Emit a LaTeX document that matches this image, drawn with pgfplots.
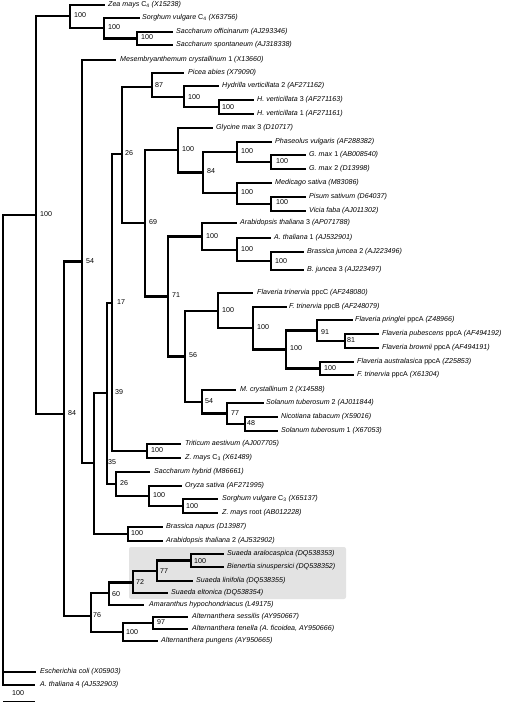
\documentclass[border=0pt]{standalone}
\usepackage{pgfplots}
\pgfplotsset{compat=1.18}
\usepackage{fontspec}
\setmainfont{Liberation Sans}
\newcommand{\I}[1]{\textit{#1}}
\tikzset{
  leaf/.style={anchor=west,inner sep=0pt,font=\fontsize{7.1}{8}\selectfont,text height=5.1pt,text depth=1.4pt},
  bs/.style={anchor=west,inner sep=0pt,font=\fontsize{7.1}{8}\selectfont,text height=5.1pt,text depth=1.4pt}}
\pgfplotsset{tree/.style={black,line width=2.4pt,line cap=rect,line join=miter,no marks}}
\begin{document}
\begin{tikzpicture}
\begin{axis}[width=510pt,height=703pt,scale only axis,xmin=0,xmax=510,ymin=0,ymax=703,
  y dir=reverse,hide axis,clip=false]
% grey box
\addplot[draw=none,fill=black!11,rounded corners=2pt] coordinates {(129,547) (346,547) (346,599) (129,599)} -- cycle;
% root
\addplot[tree] coordinates {(36,215) (3,215) (3,685) (34,685)};
\addplot[tree] coordinates {(3,672) (35,672)};
% A
\addplot[tree] coordinates {(70,16) (36,16) (36,414) (64,414)};
% B
\addplot[tree] coordinates {(104,5) (70,5) (70,28) (104,28)};
\addplot[tree] coordinates {(139,18) (104,18) (104,38.5) (137,38.5)};
\addplot[tree] coordinates {(172,32) (137,32) (137,45) (172,45)};
% C
\addplot[tree] coordinates {(82,261.5) (64,261.5) (64,616) (91,616)};
% D
\addplot[tree] coordinates {(115,60) (82,60) (82,463) (94,463)};
% 35
\addplot[tree] coordinates {(107,393) (94,393) (94,534) (128,534)};
% 39
\addplot[tree] coordinates {(112,303) (107,303) (107,484) (116,484)};
% 17
\addplot[tree] coordinates {(122,154) (112,154) (112,451) (147,451)};
% 26
\addplot[tree] coordinates {(152,87) (122,87) (122,223) (145,223)};
% 87
\addplot[tree] coordinates {(183,73) (152,73) (152,97) (184,97)};
\addplot[tree] coordinates {(218,86) (184,86) (184,107) (219,107)};
\addplot[tree] coordinates {(253,100) (219,100) (219,114) (253,114)};
% 69
\addplot[tree] coordinates {(178,150) (145,150) (145,296.5) (168,296.5)};
\addplot[tree] coordinates {(212,128) (178,128) (178,172.5) (203,172.5)};
\addplot[tree] coordinates {(237,152) (203,152) (203,193) (237,193)};
\addplot[tree] coordinates {(271,142) (237,142) (237,162) (271,162)};
\addplot[tree] coordinates {(305,155) (271,155) (271,169) (305,169)};
\addplot[tree] coordinates {(271,183) (237,183) (237,204) (271,204)};
\addplot[tree] coordinates {(305,197) (271,197) (271,211) (305,211)};
% 71
\addplot[tree] coordinates {(202,236.5) (168,236.5) (168,356.5) (185,356.5)};
\addplot[tree] coordinates {(236,223) (202,223) (202,250) (237,250)};
\addplot[tree] coordinates {(270,238) (237,238) (237,261) (271,261)};
\addplot[tree] coordinates {(303,252) (271,252) (271,270) (303,270)};
% 56
\addplot[tree] coordinates {(218,311) (185,311) (185,402) (202,402)};
\addplot[tree] coordinates {(252,293) (218,293) (218,328) (253,328)};
\addplot[tree] coordinates {(286,307) (253,307) (253,349.5) (286,349.5)};
\addplot[tree] coordinates {(317,330.5) (286,330.5) (286,368.5) (320,368.5)};
\addplot[tree] coordinates {(352,320) (317,320) (317,341) (345,341)};
\addplot[tree] coordinates {(378,334) (345,334) (345,348) (378,348)};
\addplot[tree] coordinates {(353,362) (320,362) (320,375) (353,375)};
\addplot[tree] coordinates {(235,390) (202,390) (202,413.5) (227,413.5)};
\addplot[tree] coordinates {(263,403) (227,403) (227,424) (245,424)};
\addplot[tree] coordinates {(277,417) (245,417) (245,431) (277,431)};
% TZ
\addplot[tree] coordinates {(180,444) (147,444) (147,458) (180,458)};
% 26b
\addplot[tree] coordinates {(149,472) (116,472) (116,496) (149,496)};
\addplot[tree] coordinates {(181,486) (149,486) (149,506) (183,506)};
\addplot[tree] coordinates {(217,499) (183,499) (183,513) (217,513)};
% Brassica napus
\addplot[tree] coordinates {(162,527) (128,527) (128,541) (162,541)};
% E
\addplot[tree] coordinates {(109,593) (91,593) (91,632) (123,632)};
\addplot[tree] coordinates {(133,582.5) (109,582.5) (109,605) (143,605)};
\addplot[tree] coordinates {(157,570.75) (133,570.75) (133,593) (167,593)};
\addplot[tree] coordinates {(191,560.5) (157,560.5) (157,581) (192,581)};
\addplot[tree] coordinates {(223,554) (191,554) (191,567) (223,567)};
\addplot[tree] coordinates {(153,623) (123,623) (123,641) (157,641)};
\addplot[tree] coordinates {(187,617) (153,617) (153,629) (187,629)};
% scale bar
\addplot[black,line width=1pt,no marks] coordinates {(3,701) (35,701)};
\node[bs] at (axis cs:12,694) {100};
% bootstrap values
\node[bs] at (axis cs:40,215) {100};
\node[bs] at (axis cs:74,16) {100};
\node[bs] at (axis cs:108,28) {100};
\node[bs] at (axis cs:141,38) {100};
\node[bs] at (axis cs:86,262) {54};
\node[bs] at (axis cs:68,414) {84};
\node[bs] at (axis cs:125,154) {26};
\node[bs] at (axis cs:155,86) {87};
\node[bs] at (axis cs:188,98) {100};
\node[bs] at (axis cs:222,108) {100};
\node[bs] at (axis cs:182,150) {100};
\node[bs] at (axis cs:207,172) {84};
\node[bs] at (axis cs:241,152) {100};
\node[bs] at (axis cs:276,162) {100};
\node[bs] at (axis cs:241,193) {100};
\node[bs] at (axis cs:276,203) {100};
\node[bs] at (axis cs:149,223) {69};
\node[bs] at (axis cs:172,296) {71};
\node[bs] at (axis cs:206,237) {100};
\node[bs] at (axis cs:241,250) {100};
\node[bs] at (axis cs:275,262) {100};
\node[bs] at (axis cs:189,356) {56};
\node[bs] at (axis cs:222,311) {100};
\node[bs] at (axis cs:257,328) {100};
\node[bs] at (axis cs:290,349) {100};
\node[bs] at (axis cs:321,333) {91};
\node[bs] at (axis cs:347,341) {81};
\node[bs] at (axis cs:324,369) {100};
\node[bs] at (axis cs:205,402) {54};
\node[bs] at (axis cs:231,414) {77};
\node[bs] at (axis cs:247,424) {48};
\node[bs] at (axis cs:117,303) {17};
\node[bs] at (axis cs:115,393) {39};
\node[bs] at (axis cs:151,451) {100};
\node[bs] at (axis cs:108,463) {35};
\node[bs] at (axis cs:120,484) {26};
\node[bs] at (axis cs:153,496) {100};
\node[bs] at (axis cs:186,507) {100};
\node[bs] at (axis cs:131,534) {100};
\node[bs] at (axis cs:93,616) {76};
\node[bs] at (axis cs:112,595) {60};
\node[bs] at (axis cs:136,583) {72};
\node[bs] at (axis cs:160,572) {77};
\node[bs] at (axis cs:194,562) {100};
\node[bs] at (axis cs:126,633) {100};
\node[bs] at (axis cs:157,623) {97};
% leaves
\node[leaf] at (axis cs:108,5) {\I{Zea mays} C\textsubscript{4} \I{(X15238)}};
\node[leaf] at (axis cs:142,18) {\I{Sorghum vulgare} C\textsubscript{4} \I{(X63756)}};
\node[leaf] at (axis cs:176,32) {\I{Saccharum officinarum (AJ293346)}};
\node[leaf] at (axis cs:176,45) {\I{Saccharum spontaneum (AJ318338)}};
\node[leaf] at (axis cs:120,60) {\I{Mesembryanthemum crystallinum} 1 \I{(X13660)}};
\node[leaf] at (axis cs:188,73) {\I{Picea abies (X79090)}};
\node[leaf] at (axis cs:222,86) {\I{Hydrilla verticillata} 2 \I{(AF271162)}};
\node[leaf] at (axis cs:257,100) {\I{H. verticillata} 3 \I{(AF271163)}};
\node[leaf] at (axis cs:257,114) {\I{H. verticillata} 1 \I{(AF271161)}};
\node[leaf] at (axis cs:216,128) {\I{Glycine max} 3 \I{(D10717)}};
\node[leaf] at (axis cs:275,142) {\I{Phaseolus vulgaris (AF288382)}};
\node[leaf] at (axis cs:309,155) {\I{G. max} 1 \I{(AB008540)}};
\node[leaf] at (axis cs:309,169) {\I{G. max} 2 \I{(D13998)}};
\node[leaf] at (axis cs:275,183) {\I{Medicago sativa (M83086)}};
\node[leaf] at (axis cs:309,197) {\I{Pisum sativum (D64037)}};
\node[leaf] at (axis cs:309,211) {\I{Vicia faba (AJ011302)}};
\node[leaf] at (axis cs:240,223) {\I{Arabidopsis thaliana} 3 \I{(AP071788)}};
\node[leaf] at (axis cs:274,238) {\I{A. thaliana} 1 \I{(AJ532901)}};
\node[leaf] at (axis cs:307,252) {\I{Brassica juncea} 2 \I{(AJ223496)}};
\node[leaf] at (axis cs:307,270) {\I{B. juncea} 3 \I{(AJ223497)}};
\node[leaf] at (axis cs:257,293) {\I{Flaveria trinervia} ppcC \I{(AF248080)}};
\node[leaf] at (axis cs:289,307) {\I{F. trinervia} ppcB \I{(AF248079)}};
\node[leaf] at (axis cs:355,320) {\I{Flaveria pringlei} ppcA \I{(Z48966)}};
\node[leaf] at (axis cs:382,334) {\I{Flaveria pubescens} ppcA \I{(AF494192)}};
\node[leaf] at (axis cs:382,348) {\I{Flaveria brownii} ppcA \I{(AF494191)}};
\node[leaf] at (axis cs:357,362) {\I{Flaveria australasica} ppcA \I{(Z25853)}};
\node[leaf] at (axis cs:357,375) {\I{F. trinervia} ppcA \I{(X61304)}};
\node[leaf] at (axis cs:240,390) {\I{M. crystallinum} 2 \I{(X14588)}};
\node[leaf] at (axis cs:266,403) {\I{Solanum tuberosum} 2 \I{(AJ011844)}};
\node[leaf] at (axis cs:281,417) {\I{Nicotiana tabacum (X59016)}};
\node[leaf] at (axis cs:281,431) {\I{Solanum tuberosum} 1 \I{(X67053)}};
\node[leaf] at (axis cs:185,444) {\I{Triticum aestivum (AJ007705)}};
\node[leaf] at (axis cs:185,458) {\I{Z. mays} C\textsubscript{3} \I{(X61489)}};
\node[leaf] at (axis cs:154,472) {\I{Saccharum hybrid (M86661)}};
\node[leaf] at (axis cs:185,486) {\I{Oryza sativa (AF271995)}};
\node[leaf] at (axis cs:222,499) {\I{Sorghum vulgare} C\textsubscript{3} \I{(X65137)}};
\node[leaf] at (axis cs:222,513) {\I{Z. mays} root \I{(AB012228)}};
\node[leaf] at (axis cs:166,527) {\I{Brassica napus (D13987)}};
\node[leaf] at (axis cs:166,541) {\I{Arabidopsis thaliana} 2 \I{(AJ532902)}};
\node[leaf] at (axis cs:227,554) {\I{Suaeda aralocaspica (DQ538353)}};
\node[leaf] at (axis cs:227,567) {\I{Bienertia sinuspersici (DQ538352)}};
\node[leaf] at (axis cs:196,581) {\I{Suaeda linifolia (DQ538355)}};
\node[leaf] at (axis cs:171,593) {\I{Suaeda eltonica (DQ538354)}};
\node[leaf] at (axis cs:149,605) {\I{Amaranthus hypochondriacus (L49175)}};
\node[leaf] at (axis cs:192,617) {\I{Alternanthera sessilis (AY950667)}};
\node[leaf] at (axis cs:192,629) {\I{Alternanthera tenella (A. ficoidea, AY950666)}};
\node[leaf] at (axis cs:161,641) {\I{Alternanthera pungens (AY950665)}};
\node[leaf] at (axis cs:40,672) {\I{Escherichia coli (X05903)}};
\node[leaf] at (axis cs:40,685) {\I{A. thaliana} 4 \I{(AJ532903)}};
\end{axis}
\pgfresetboundingbox
\path[use as bounding box] (0,0) rectangle (510pt,703pt);
\end{tikzpicture}
\end{document}
